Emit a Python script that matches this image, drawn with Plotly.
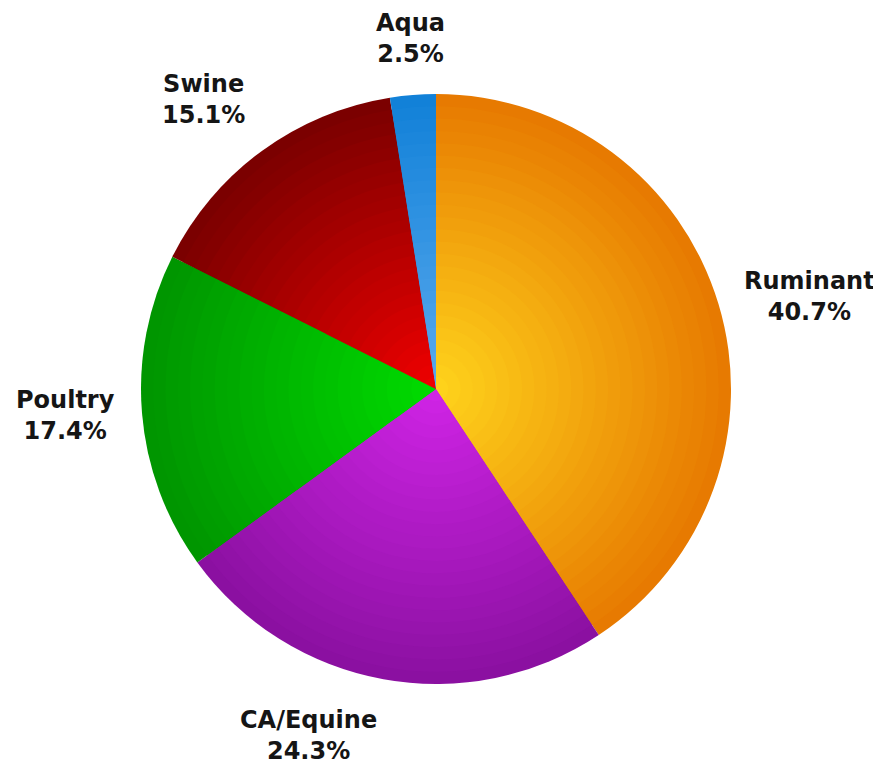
import numpy as np
import plotly.graph_objects as go

# ---- data ----
labels = ["Ruminant", "CA/Equine", "Poultry", "Swine", "Aqua"]
values = [40.7, 24.3, 17.4, 15.1, 2.5]
edge_colors = ["#E67800", "#8A10A0", "#009400", "#780000", "#1080D8"]
center_colors = ["#FFD41C", "#D024E6", "#00DC00", "#F00000", "#5AAAEE"]

W, H = 881, 765
# page body adds an 8px offset, so work in figure coordinates
CX, CY, R = 428, 381, 295
N_LAYERS = 24


def hex2rgb(h):
    h = h.lstrip("#")
    return np.array([int(h[i:i + 2], 16) for i in (0, 2, 4)], dtype=float)


def mix(c_edge, c_center, t):
    a, b = hex2rgb(c_edge), hex2rgb(c_center)
    c = a * (1 - t) + b * t
    return "rgb(%d,%d,%d)" % tuple(np.round(c).astype(int))


fig = go.Figure()
for k in range(N_LAYERS):
    f = 1 - k / N_LAYERS
    t = 1 - (f - 0.5 / N_LAYERS)
    t = min(max(t, 0), 1)
    cols = [mix(e, c, t) for e, c in zip(edge_colors, center_colors)]
    fig.add_trace(go.Pie(
        labels=labels, values=values, sort=False, direction="clockwise",
        rotation=0, marker=dict(colors=cols, line=dict(width=0)),
        textinfo="none", hoverinfo="skip", showlegend=False,
        domain=dict(x=[(CX - f * R) / W, (CX + f * R) / W],
                    y=[1 - (CY + f * R) / H, 1 - (CY - f * R) / H]),
    ))

# labels placed outside, positioned from the slice mid-angles
total = sum(values)
cum = np.cumsum([0] + values)
RL = 320
annotations = []
for i, (lab, v) in enumerate(zip(labels, values)):
    mid = (cum[i] + v / 2) / total * 2 * np.pi
    s, c = np.sin(mid), np.cos(mid)
    x = CX + RL * s
    y = CY - RL * c
    xa = "left" if s > 0.15 else ("right" if s < -0.15 else "center")
    ya = "bottom" if c > 0.5 else ("top" if c < -0.5 else "middle")
    annotations.append(dict(
        x=x / W, y=1 - y / H, xref="paper", yref="paper",
        text="<b>%s</b><br><b>%.1f%%</b>" % (lab, v),
        showarrow=False, xanchor=xa, yanchor=ya, align="center",
        font=dict(family="DejaVu Sans", size=24, color="#151515"),
    ))

fig.update_layout(
    width=W, height=H, margin=dict(l=0, r=0, t=0, b=0),
    paper_bgcolor="white", plot_bgcolor="white",
    annotations=annotations, showlegend=False,
)
fig.write_html("out.html")
